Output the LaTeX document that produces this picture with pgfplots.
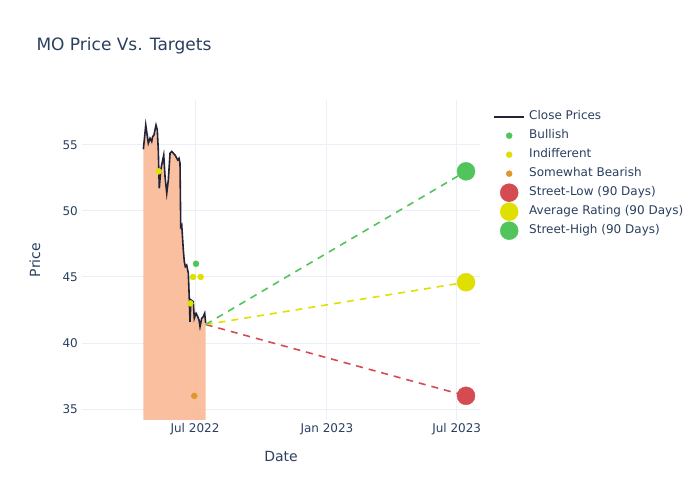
\documentclass[border=0pt]{standalone}
\usepackage{fontspec}
\setmainfont{DejaVu Sans}
\usepackage{pgfplots}
\pgfplotsset{compat=1.18}

\definecolor{txt}{RGB}{42,63,95}
\definecolor{gridc}{RGB}{235,240,248}
\definecolor{pricec}{RGB}{35,35,55}
\definecolor{fillc}{RGB}{249,186,150}
\definecolor{bull}{RGB}{82,196,92}
\definecolor{indiff}{RGB}{224,224,0}
\definecolor{bear}{RGB}{222,150,45}
\definecolor{low}{RGB}{212,76,82}

% x = days from 1 Jul 2022
\pgfplotstableread{
d p
-72 54.67
-68.7 56.5
-65.1 55.13
-62.7 55.5
-60.4 55.25
-59 55.63
-57.2 55.76
-54.4 56.5
-52.6 56.14
-51.2 54.62
-49.8 51.72
-47.8 53.1
-46 53.6
-43.6 54.24
-41.8 52.6
-39.4 51.34
-37.2 52.35
-34.8 54.37
-32.5 54.5
-27.9 54.24
-24.1 53.86
-22.3 53.99
-20.9 53.6
-19.9 48.81
-18.5 48.94
-16.3 47.05
-14.9 46.16
-13.5 45.78
-11.6 45.9
-9.3 45.28
-7.9 43.26
-7 41.61
-5.6 43.26
-2.4 43.13
-1 41.87
1.4 42.25
3.8 42.0
5.6 41.74
7 41.24
9.3 41.87
11.6 42.0
13.5 42.25
14.9 41.5
}\prices

\begin{document}
\begin{tikzpicture}
\path (0pt,0pt) rectangle (700pt,500pt);
\node[anchor=base west, text=txt, font=\fontsize{17}{20}\selectfont] at (33pt,449pt) {MO Price Vs. Targets};
\begin{axis}[
    at={(82pt,80pt)}, anchor=south west,
    scale only axis, width=398pt, height=320pt,
    xmin=-157.6, xmax=397.5, ymin=34.17, ymax=58.4,
    axis line style={draw=none}, major tick length=0pt,
    xtick={0,184,365}, xticklabels={Jul 2022, Jan 2023, Jul 2023},
    ytick={35,40,45,50,55},
    grid=major, major grid style={color=gridc, line width=1pt},
    tick label style={text=txt, font=\fontsize{12}{14}\selectfont},
    /pgf/number format/assume math mode=true,
    yticklabel style={inner sep=0pt, anchor=east, xshift=-4pt},
    xticklabel style={inner sep=0pt, anchor=north, yshift=-3pt},
    xlabel={Date}, ylabel={Price},
    label style={text=txt, font=\fontsize{14}{16}\selectfont},
    xlabel style={at={(axis description cs:0.5,0)}, anchor=center, yshift=-36pt},
    ylabel style={at={(axis description cs:0,0.5)}, anchor=center, yshift=47pt},
    legend image code/.code={%
      \begin{pgfinterruptboundingbox}
      \draw[mark repeat=2,mark phase=2,#1] plot coordinates {(0pt,0pt)(15pt,0pt)(30pt,0pt)};
      \end{pgfinterruptboundingbox}
      \path[draw=none, fill=none] (0pt,-3pt) rectangle (30pt,3pt);},
    legend cell align=left,
    legend style={at={(1,1)}, anchor=north west, xshift=13pt, yshift=-10pt,
      draw=none, fill=none, inner sep=0pt, row sep=6pt, column sep=2.5pt,
      font=\fontsize{12}{14}\selectfont, text=txt,
      nodes={inner sep=1.5pt, text height=0.75em, text depth=0.25em}},
]
\addplot[draw=none, fill=fillc, fill opacity=0.92, forget plot] table[x=d,y=p] {\prices} \closedcycle;
\addplot[color=pricec, line width=1.6pt, no marks,
  legend image code/.code={\draw[pricec, line width=2pt] (0pt,0pt) -- (30pt,0pt);
    \path[draw=none] (0pt,-3pt) rectangle (30pt,3pt);}] table[x=d,y=p] {\prices};
\addlegendentry{Close Prices}
\addplot[only marks, mark=*, mark size=3pt, color=bull] coordinates {(1.4,46.0)};
\addlegendentry{Bullish}
\addplot[only marks, mark=*, mark size=3pt, color=indiff] coordinates {(-50.6,53.0) (-2.8,45.0) (7.9,45.0) (-6.5,43.0)};
\addlegendentry{Indifferent}
\addplot[only marks, mark=*, mark size=3pt, color=bear] coordinates {(-1,36.0)};
\addlegendentry{Somewhat Bearish}
\addplot[low, line width=1.6pt, dash pattern=on 7pt off 6pt, forget plot] coordinates {(14.9,41.4) (378,36.0)};
\addplot[indiff, line width=1.6pt, dash pattern=on 7pt off 6pt, forget plot] coordinates {(14.9,41.4) (378,44.6)};
\addplot[bull, line width=1.6pt, dash pattern=on 7pt off 6pt, forget plot] coordinates {(14.9,41.4) (378,53.0)};
\addplot[only marks, mark=*, mark size=9pt, color=low] coordinates {(378,36.0)};
\addlegendentry{Street-Low (90 Days)}
\addplot[only marks, mark=*, mark size=9pt, color=indiff] coordinates {(378,44.6)};
\addlegendentry{Average Rating (90 Days)}
\addplot[only marks, mark=*, mark size=9pt, color=bull] coordinates {(378,53.0)};
\addlegendentry{Street-High (90 Days)}
\end{axis}
\end{tikzpicture}
\end{document}
